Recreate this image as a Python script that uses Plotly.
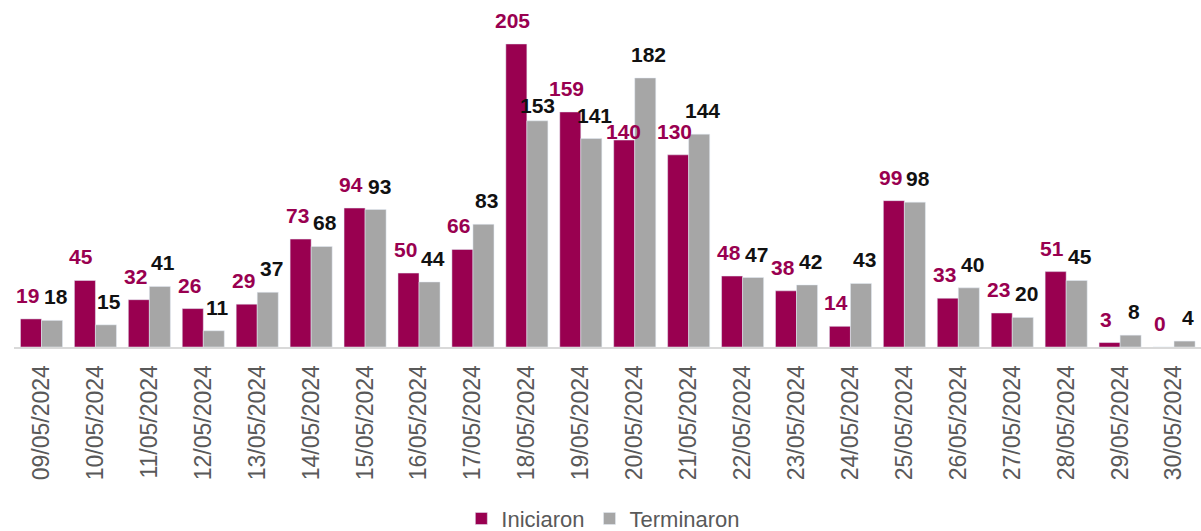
import plotly.graph_objects as go

fechas = [
    "09/05/2024", "10/05/2024", "11/05/2024", "12/05/2024", "13/05/2024",
    "14/05/2024", "15/05/2024", "16/05/2024", "17/05/2024", "18/05/2024",
    "19/05/2024", "20/05/2024", "21/05/2024", "22/05/2024", "23/05/2024",
    "24/05/2024", "25/05/2024", "26/05/2024", "27/05/2024", "28/05/2024",
    "29/05/2024", "30/05/2024",
]
iniciaron = [19, 45, 32, 26, 29, 73, 94, 50, 66, 205, 159, 140, 130, 48, 38, 14, 99, 33, 23, 51, 3, 0]
terminaron = [18, 15, 41, 11, 37, 68, 93, 44, 83, 153, 141, 182, 144, 47, 42, 43, 98, 40, 20, 45, 8, 4]

MAGENTA = "#990050"
GRIS = "#A6A6A6"
FONT = "Arial, Liberation Sans, sans-serif"

# a couple of labels sit lower in the original to dodge their neighbours
nudge_ini = {"20/05/2024": (3, -5)}
nudge_ter = {"18/05/2024": (-3, 2)}

fig = go.Figure()
fig.add_trace(go.Bar(x=fechas, y=iniciaron, name="Iniciaron", marker_color=MAGENTA))
fig.add_trace(go.Bar(x=fechas, y=terminaron, name="Terminaron", marker_color=GRIS))

for f, v in zip(fechas, iniciaron):
    dx, dy = nudge_ini.get(f, (0, 10))
    fig.add_annotation(x=f, y=v, text=f"<b>{v}</b>", showarrow=False, xshift=-14 + dx,
                       yanchor="bottom", yshift=dy,
                       font=dict(family=FONT, size=21, color=MAGENTA))
for f, v in zip(fechas, terminaron):
    dx, dy = nudge_ter.get(f, (0, 10))
    fig.add_annotation(x=f, y=v, text=f"<b>{v}</b>", showarrow=False, xshift=14 + dx,
                       yanchor="bottom", yshift=dy,
                       font=dict(family=FONT, size=21, color="#111111"))

fig.update_layout(
    width=1201,
    height=531,
    barmode="group",
    bargap=0.22,
    bargroupgap=0,
    paper_bgcolor="white",
    plot_bgcolor="white",
    font=dict(family=FONT, color="#595959"),
    margin=dict(l=14, r=0, t=7, b=184, autoexpand=False),
    showlegend=True,
    legend=dict(
        orientation="h",
        x=0.4965, xanchor="center",
        y=-0.505, yanchor="middle",
        font=dict(size=22, color="#595959"),
        itemwidth=30,
        traceorder="normal",
    ),
    xaxis=dict(
        tickangle=-90,
        tickfont=dict(size=23, color="#595959"),
        showline=True,
        linecolor="#D9D9D9",
        linewidth=2,
        ticks="",
        ticklabelstandoff=7,
        showgrid=False,
    ),
    yaxis=dict(
        range=[0, 230],
        visible=False,
        showgrid=False,
        zeroline=False,
    ),
)

fig.write_html("out.html", config={"displayModeBar": False},
               post_script="document.body.style.margin='0';")
